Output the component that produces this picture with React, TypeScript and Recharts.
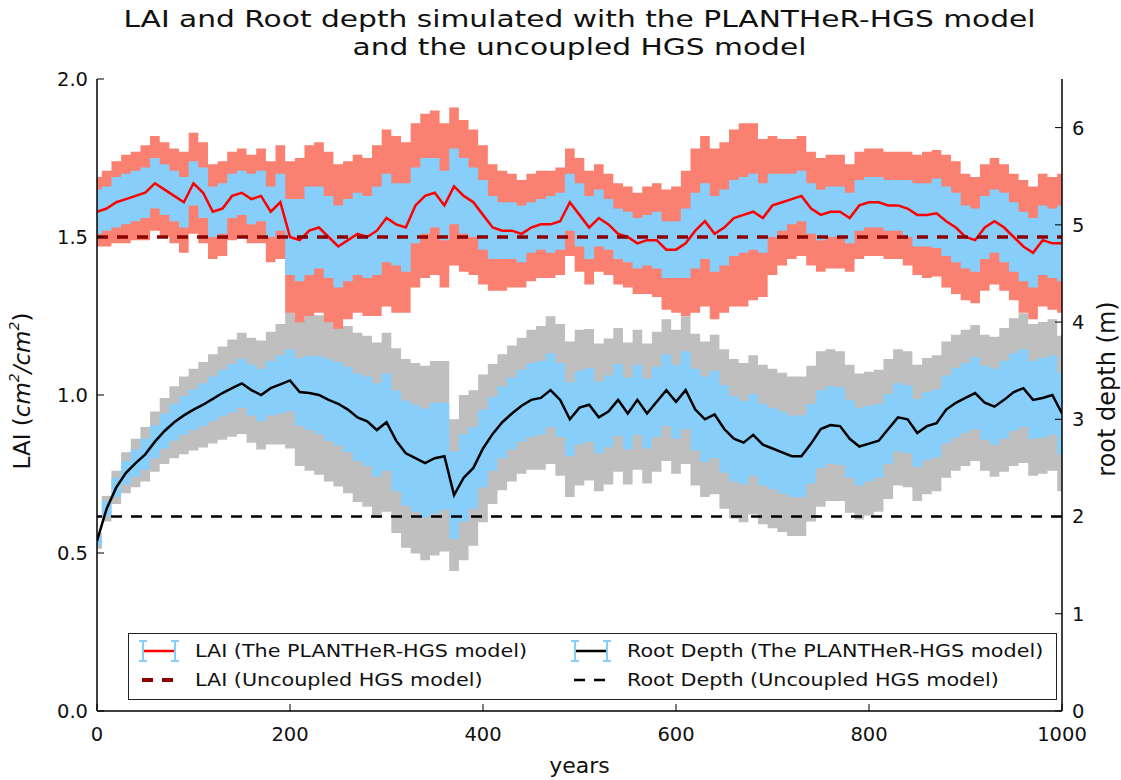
import React from 'react';
import { ComposedChart, Area, Line, XAxis, YAxis, ReferenceLine, Label } from 'recharts';

// ---------- data (10-year sampling) ----------
const years = [
  0, 10, 20, 30, 40, 50, 60, 70, 80, 90, 100, 110, 120, 130, 140, 150, 160, 170, 180, 190,
  200, 210, 220, 230, 240, 250, 260, 270, 280, 290, 300, 310, 320, 330, 340, 350, 360, 370, 380, 390,
  400, 410, 420, 430, 440, 450, 460, 470, 480, 490, 500, 510, 520, 530, 540, 550, 560, 570, 580, 590,
  600, 610, 620, 630, 640, 650, 660, 670, 680, 690, 700, 710, 720, 730, 740, 750, 760, 770, 780, 790,
  800, 810, 820, 830, 840, 850, 860, 870, 880, 890, 900, 910, 920, 930, 940, 950, 960, 970, 980, 990,
  1000,
];

const laiMean = [
  1.58, 1.59, 1.61, 1.62, 1.63, 1.64, 1.67, 1.65, 1.63, 1.61, 1.67, 1.64, 1.58, 1.59, 1.63, 1.64, 1.62, 1.63, 1.58, 1.61,
  1.50, 1.49, 1.52, 1.53, 1.50, 1.47, 1.49, 1.51, 1.50, 1.52, 1.56, 1.54, 1.53, 1.60, 1.63, 1.64, 1.60, 1.66, 1.63, 1.61,
  1.57, 1.53, 1.52, 1.52, 1.51, 1.53, 1.54, 1.54, 1.55, 1.61, 1.57, 1.53, 1.56, 1.54, 1.51, 1.50, 1.48, 1.49, 1.49, 1.46,
  1.46, 1.48, 1.52, 1.55, 1.51, 1.53, 1.56, 1.57, 1.58, 1.56, 1.60, 1.61, 1.62, 1.63, 1.59, 1.57, 1.58, 1.58, 1.56, 1.60,
  1.61, 1.61, 1.60, 1.60, 1.59, 1.57, 1.57, 1.575, 1.55, 1.53, 1.50, 1.49, 1.53, 1.55, 1.53, 1.50, 1.47, 1.45, 1.49, 1.48,
  1.48,
];

const laiInnerSd = [
  0.07, 0.07, 0.08, 0.08, 0.08, 0.08, 0.08, 0.08, 0.08, 0.08, 0.07, 0.08, 0.08, 0.08, 0.07, 0.07, 0.08, 0.08, 0.08, 0.09,
  0.12, 0.13, 0.14, 0.13, 0.13, 0.13, 0.13, 0.13, 0.13, 0.14, 0.14, 0.13, 0.14, 0.12, 0.12, 0.11, 0.11, 0.12, 0.12, 0.11,
  0.11, 0.10, 0.09, 0.09, 0.09, 0.08, 0.08, 0.09, 0.09, 0.09, 0.10, 0.10, 0.09, 0.08, 0.08, 0.08, 0.08, 0.08, 0.09, 0.09,
  0.09, 0.11, 0.12, 0.12, 0.12, 0.12, 0.12, 0.12, 0.12, 0.11, 0.10, 0.09, 0.08, 0.08, 0.08, 0.08, 0.08, 0.08, 0.08, 0.08,
  0.08, 0.08, 0.08, 0.08, 0.09, 0.10, 0.10, 0.11, 0.11, 0.11, 0.10, 0.10, 0.10, 0.10, 0.11, 0.11, 0.11, 0.11, 0.11, 0.11,
  0.12,
];

const laiOuterSd = [
  0.11, 0.12, 0.13, 0.14, 0.14, 0.15, 0.15, 0.15, 0.15, 0.16, 0.16, 0.16, 0.15, 0.15, 0.14, 0.14, 0.14, 0.15, 0.16, 0.18,
  0.24, 0.26, 0.27, 0.27, 0.27, 0.26, 0.25, 0.25, 0.25, 0.27, 0.28, 0.28, 0.27, 0.26, 0.26, 0.26, 0.26, 0.25, 0.24, 0.23,
  0.22, 0.20, 0.19, 0.18, 0.17, 0.17, 0.17, 0.17, 0.17, 0.17, 0.18, 0.18, 0.17, 0.16, 0.16, 0.16, 0.16, 0.17, 0.18, 0.19,
  0.20, 0.23, 0.26, 0.27, 0.27, 0.27, 0.28, 0.29, 0.28, 0.25, 0.22, 0.20, 0.19, 0.19, 0.18, 0.18, 0.18, 0.18, 0.17, 0.17,
  0.17, 0.17, 0.17, 0.17, 0.18, 0.19, 0.20, 0.20, 0.21, 0.21, 0.20, 0.20, 0.20, 0.20, 0.20, 0.20, 0.21, 0.21, 0.21, 0.21,
  0.22,
];

const rootMean = [
  1.75, 2.08, 2.30, 2.45, 2.55, 2.64, 2.77, 2.88, 2.97, 3.04, 3.10, 3.15, 3.21, 3.27, 3.32, 3.37, 3.30, 3.25, 3.32, 3.36,
  3.40, 3.28, 3.27, 3.25, 3.20, 3.16, 3.10, 3.02, 2.98, 2.89, 2.97, 2.78, 2.65, 2.60, 2.55, 2.60, 2.62, 2.22, 2.40, 2.50,
  2.70, 2.85, 2.97, 3.06, 3.14, 3.20, 3.22, 3.30, 3.20, 3.00, 3.12, 3.15, 3.02, 3.08, 3.20, 3.06, 3.20, 3.06, 3.18, 3.30,
  3.18, 3.30, 3.10, 3.00, 3.05, 2.90, 2.80, 2.76, 2.84, 2.74, 2.70, 2.66, 2.62, 2.62, 2.75, 2.90, 2.94, 2.93, 2.80, 2.72,
  2.75, 2.78, 2.90, 3.02, 3.00, 2.86, 2.93, 2.96, 3.10, 3.17, 3.22, 3.27, 3.17, 3.13, 3.20, 3.28, 3.32, 3.20, 3.22, 3.25,
  3.06,
];

const rootInnerSd = [
  0.05, 0.08, 0.10, 0.12, 0.14, 0.16, 0.17, 0.18, 0.19, 0.20, 0.21, 0.22, 0.23, 0.24, 0.25, 0.25, 0.26, 0.27, 0.28, 0.30,
  0.32, 0.35, 0.38, 0.40, 0.42, 0.43, 0.44, 0.45, 0.46, 0.48, 0.50, 0.52, 0.54, 0.55, 0.56, 0.57, 0.55, 0.45, 0.45, 0.42,
  0.40, 0.38, 0.37, 0.37, 0.37, 0.38, 0.38, 0.38, 0.38, 0.38, 0.38, 0.38, 0.37, 0.37, 0.37, 0.37, 0.36, 0.36, 0.36, 0.37,
  0.38, 0.40, 0.42, 0.44, 0.45, 0.45, 0.44, 0.43, 0.42, 0.42, 0.42, 0.42, 0.42, 0.42, 0.41, 0.40, 0.40, 0.40, 0.40, 0.40,
  0.39, 0.38, 0.36, 0.35, 0.35, 0.35, 0.35, 0.35, 0.35, 0.36, 0.36, 0.37, 0.38, 0.39, 0.40, 0.40, 0.40, 0.40, 0.41, 0.41,
  0.42,
];

const rootOuterSd = [
  0.08, 0.13, 0.17, 0.21, 0.25, 0.28, 0.31, 0.34, 0.37, 0.40, 0.42, 0.44, 0.46, 0.48, 0.50, 0.52, 0.54, 0.56, 0.58, 0.62,
  0.70, 0.76, 0.80, 0.82, 0.84, 0.85, 0.86, 0.87, 0.88, 0.90, 0.92, 0.95, 0.97, 0.98, 1.00, 1.00, 0.98, 0.78, 0.85, 0.80,
  0.76, 0.72, 0.70, 0.70, 0.70, 0.72, 0.74, 0.76, 0.78, 0.80, 0.80, 0.78, 0.76, 0.75, 0.74, 0.73, 0.72, 0.72, 0.72, 0.73,
  0.74, 0.76, 0.78, 0.80, 0.82, 0.82, 0.82, 0.82, 0.82, 0.82, 0.82, 0.82, 0.82, 0.82, 0.80, 0.80, 0.78, 0.77, 0.76, 0.75,
  0.74, 0.73, 0.72, 0.70, 0.70, 0.70, 0.70, 0.70, 0.70, 0.70, 0.70, 0.70, 0.70, 0.72, 0.74, 0.76, 0.77, 0.78, 0.78, 0.78,
  0.80,
];

const LAI_UNCOUPLED = 1.5;
const ROOT_UNCOUPLED = 2.0;

const xTicks = [0, 200, 400, 600, 800, 1000];
const laiTicks = [0, 0.5, 1.0, 1.5, 2.0];
const rootTicks = [0, 1, 2, 3, 4, 5, 6];

const titleLines = [
  'LAI and Root depth simulated with the PLANTHeR-HGS model',
  'and the uncoupled HGS model',
];

const legendItems = [
  'LAI (The PLANTHeR-HGS model)',
  'LAI (Uncoupled HGS model)',
  'Root Depth (The PLANTHeR-HGS model)',
  'Root Depth (Uncoupled HGS model)',
];

// ---------- styles ----------
const FONT = '"DejaVu Sans", sans-serif';
const C_SALMON = '#FA8072';
const C_SKY = '#87CEFA';
const C_GRAY = '#BFBFBF';
const C_RED = '#FF0000';
const C_DARKRED = '#8B0000';

const EmptyTick = () => <g />;

const LeftLabel = (props: any) => {
  const vb = props.viewBox || { x: 37, y: 79, width: 60, height: 632 };
  const cx = vb.x - 15;
  const cy = vb.y + vb.height / 2 - 4;
  return (
    <text
      x={cx}
      y={cy}
      transform={`rotate(-90 ${cx} ${cy})`}
      textAnchor="middle"
      dominantBaseline="central"
      fontFamily={FONT}
      fontSize={23}
      fill="#111"
    >
      <tspan>LAI (</tspan>
      <tspan fontStyle="italic">cm</tspan>
      <tspan dy={-8} fontSize={14} fontStyle="italic">2</tspan>
      <tspan dy={8} fontStyle="italic">/cm</tspan>
      <tspan dy={-8} fontSize={14} fontStyle="italic">2</tspan>
      <tspan dy={8}>)</tspan>
    </text>
  );
};

const RightLabel = (props: any) => {
  const vb = props.viewBox || { x: 1062, y: 79, width: 44, height: 632 };
  const cx = vb.x + vb.width + 1;
  const cy = vb.y + vb.height / 2 - 6;
  return (
    <text
      x={cx}
      y={cy}
      transform={`rotate(-90 ${cx} ${cy})`}
      textAnchor="middle"
      dominantBaseline="central"
      fontFamily={FONT}
      fontSize={24}
      fill="#111"
    >
      root depth (m)
    </text>
  );
};

const BottomLabel = (props: any) => {
  const vb = props.viewBox || { x: 97, y: 711, width: 965, height: 40 };
  const cx = vb.x + vb.width / 2;
  const cy = vb.y + vb.height + 14;
  return (
    <text x={cx} y={cy} textAnchor="middle" dominantBaseline="central" fontFamily={FONT} fontSize={22} fill="#111">
      years
    </text>
  );
};

const ErrIcon = ({ lineColor }: { lineColor: string }) => (
  <svg width={40} height={26} style={{ display: 'block' }}>
    <line x1={3} y1={13} x2={37} y2={13} stroke={lineColor} strokeWidth={2.5} />
    <g stroke={C_SKY} strokeWidth={2}>
      <line x1={4} y1={3} x2={4} y2={23} />
      <line x1={0} y1={3} x2={8} y2={3} />
      <line x1={0} y1={23} x2={8} y2={23} />
      <line x1={36} y1={3} x2={36} y2={23} />
      <line x1={32} y1={3} x2={40} y2={3} />
      <line x1={32} y1={23} x2={40} y2={23} />
    </g>
  </svg>
);

const DashIcon = ({ color, width }: { color: string; width: number }) => (
  <svg width={40} height={26} style={{ display: 'block' }}>
    <line x1={3} y1={13} x2={37} y2={13} stroke={color} strokeWidth={width} strokeDasharray="11 9" />
  </svg>
);

export default function App() {
  const data = years.map((yr, i) => ({
    year: yr,
    lai: laiMean[i],
    laiInner: [laiMean[i] - laiInnerSd[i], laiMean[i] + laiInnerSd[i]],
    laiOuter: [laiMean[i] - laiOuterSd[i], laiMean[i] + laiOuterSd[i]],
    root: rootMean[i],
    rootInner: [rootMean[i] - rootInnerSd[i], rootMean[i] + rootInnerSd[i]],
    rootOuter: [rootMean[i] - rootOuterSd[i], rootMean[i] + rootOuterSd[i]],
  }));

  const tickStyle = { fill: '#111', fontSize: 19.5, fontFamily: FONT };
  const axisLine = { stroke: '#000', strokeWidth: 1.5 };
  const tickLine = { stroke: '#000', strokeWidth: 1 };

  const legendText: React.CSSProperties = {
    position: 'absolute',
    fontFamily: FONT,
    fontSize: 18,
    color: '#111',
    whiteSpace: 'nowrap',
    lineHeight: '24px',
    transform: 'scaleX(1.15)',
    transformOrigin: 'left center',
  };

  return (
    <div
      style={{
        position: 'absolute',
        left: 0,
        top: 0,
        width: 1121,
        height: 780,
        background: '#fff',
        fontFamily: FONT,
        overflow: 'hidden',
      }}
    >
      <div
        style={{
          position: 'absolute',
          left: 97,
          width: 965,
          top: 5,
          textAlign: 'center',
          fontSize: 23,
          lineHeight: '28px',
          color: '#111',
          whiteSpace: 'nowrap',
          transform: 'scaleX(1.29)',
          transformOrigin: 'center center',
        }}
      >
        {titleLines.map((t) => (
          <div key={t}>{t}</div>
        ))}
      </div>

      <ComposedChart
        width={1121}
        height={780}
        data={data}
        margin={{ top: 79, right: 15, bottom: 29, left: 37 }}
      >
        <XAxis
          xAxisId="b"
          type="number"
          dataKey="year"
          domain={[0, 1000]}
          ticks={xTicks}
          orientation="bottom"
          height={40}
          tickSize={-7}
          tickMargin={23}
          axisLine={axisLine}
          tickLine={tickLine}
          tick={tickStyle}
          allowDataOverflow
        >
          <Label content={<BottomLabel />} />
        </XAxis>
        <XAxis
          xAxisId="t"
          type="number"
          dataKey="year"
          domain={[0, 1000]}
          ticks={xTicks}
          orientation="top"
          height={0}
          tickSize={-7}
          tickMargin={0}
          axisLine={axisLine}
          tickLine={tickLine}
          tick={<EmptyTick />}
          allowDataOverflow
        />
        <YAxis
          yAxisId="lai"
          orientation="left"
          domain={[0, 2]}
          ticks={laiTicks}
          width={60}
          tickSize={-7}
          tickMargin={16}
          axisLine={axisLine}
          tickLine={tickLine}
          tick={tickStyle}
          tickFormatter={(v: number) => v.toFixed(1)}
          allowDataOverflow
        >
          <Label content={<LeftLabel />} />
        </YAxis>
        <YAxis
          yAxisId="root"
          orientation="right"
          domain={[0, 6.5]}
          ticks={rootTicks}
          width={44}
          tickSize={-7}
          tickMargin={17}
          axisLine={axisLine}
          tickLine={tickLine}
          tick={tickStyle}
          allowDataOverflow
        >
          <Label content={<RightLabel />} />
        </YAxis>

        {/* root depth bands and line */}
        <Area
          xAxisId="b"
          yAxisId="root"
          type="step"
          dataKey="rootOuter"
          fill={C_GRAY}
          fillOpacity={1}
          stroke="none"
          isAnimationActive={false}
          activeDot={false}
        />
        <Area
          xAxisId="b"
          yAxisId="root"
          type="step"
          dataKey="rootInner"
          fill={C_SKY}
          fillOpacity={1}
          stroke="none"
          isAnimationActive={false}
          activeDot={false}
        />
        <Line
          xAxisId="b"
          yAxisId="root"
          type="linear"
          dataKey="root"
          stroke="#000"
          strokeWidth={2.5}
          dot={false}
          activeDot={false}
          isAnimationActive={false}
        />
        <ReferenceLine
          xAxisId="b"
          yAxisId="root"
          y={ROOT_UNCOUPLED}
          stroke="#000"
          strokeWidth={2.5}
          strokeDasharray="11 9"
        />

        {/* LAI bands and line */}
        <Area
          xAxisId="b"
          yAxisId="lai"
          type="step"
          dataKey="laiOuter"
          fill={C_SALMON}
          fillOpacity={1}
          stroke="none"
          isAnimationActive={false}
          activeDot={false}
        />
        <Area
          xAxisId="b"
          yAxisId="lai"
          type="step"
          dataKey="laiInner"
          fill={C_SKY}
          fillOpacity={1}
          stroke="none"
          isAnimationActive={false}
          activeDot={false}
        />
        <Line
          xAxisId="b"
          yAxisId="lai"
          type="linear"
          dataKey="lai"
          stroke={C_RED}
          strokeWidth={2.5}
          dot={false}
          activeDot={false}
          isAnimationActive={false}
        />
        <ReferenceLine
          xAxisId="b"
          yAxisId="lai"
          y={LAI_UNCOUPLED}
          stroke={C_DARKRED}
          strokeWidth={3.5}
          strokeDasharray="11 9"
        />
      </ComposedChart>

      {/* legend */}
      <div
        style={{
          position: 'absolute',
          left: 128,
          top: 633,
          width: 929,
          height: 67,
          border: '1.5px solid #222',
          boxSizing: 'border-box',
          background: '#fff',
        }}
      >
        <div style={{ position: 'absolute', left: 10, top: 4 }}>
          <ErrIcon lineColor={C_RED} />
        </div>
        <div style={{ ...legendText, left: 66, top: 5 }}>{legendItems[0]}</div>
        <div style={{ position: 'absolute', left: 10, top: 33 }}>
          <DashIcon color={C_DARKRED} width={4} />
        </div>
        <div style={{ ...legendText, left: 66, top: 34 }}>{legendItems[1]}</div>
        <div style={{ position: 'absolute', left: 442, top: 4 }}>
          <ErrIcon lineColor="#000" />
        </div>
        <div style={{ ...legendText, left: 498, top: 5 }}>{legendItems[2]}</div>
        <div style={{ position: 'absolute', left: 442, top: 33 }}>
          <DashIcon color="#000" width={2.5} />
        </div>
        <div style={{ ...legendText, left: 498, top: 34 }}>{legendItems[3]}</div>
      </div>
    </div>
  );
}
